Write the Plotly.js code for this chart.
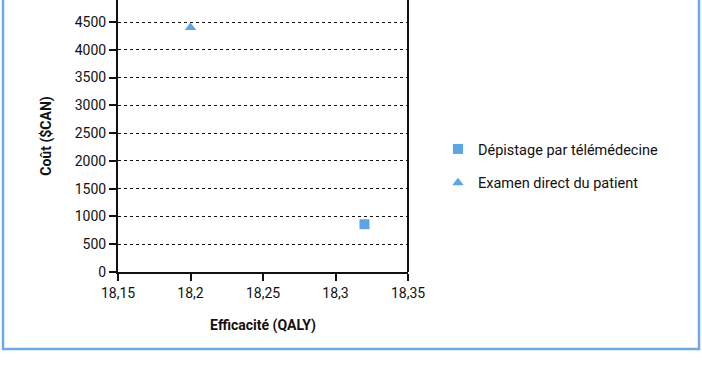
<!DOCTYPE html>
<html>
<head>
<meta charset="utf-8">
<script src="https://cdn.plot.ly/plotly-3.0.1.min.js"></script>
<style>html,body{margin:0;padding:0;background:#fff;}</style>
</head>
<body>
<div id="chart" style="width:702px;height:370px;"></div>
<script>
const seriesNames = ["Dépistage par télémédecine", "Examen direct du patient"];
const efficacite = [18.32, 18.2];
const cout = [860, 4400];
const symbols = ["square", "triangle-up"];
const yTicks = [0, 500, 1000, 1500, 2000, 2500, 3000, 3500, 4000, 4500, 5000];
const xTicks = [18.15, 18.2, 18.25, 18.3, 18.35];
const xTickLabels = ["18,15", "18,2", "18,25", "18,3", "18,35"];

const color = "#5ca4e6";
const font = "Roboto, 'DejaVu Sans', sans-serif";

const traces = seriesNames.map((n, i) => ({
  type: "scatter", mode: "markers", name: n,
  x: [efficacite[i]], y: [cout[i]],
  legendgroup: "g" + i,
  marker: {symbol: symbols[i], size: 10, color: color, line: {width: 0}},
  cliponaxis: false
}));

const L = 118, R = 408, T = 0, B = 272, W = 702, H = 370;
const px = v => (v - L) / (R - L);
const py = v => (B - v) / (B - T);

const layout = {
  width: W, height: H,
  margin: {l: L, r: W - R, t: T, b: H - B},
  paper_bgcolor: "#fff", plot_bgcolor: "#fff",
  font: {family: font, size: 14, color: "#111"},
  showlegend: true,
  legend: {x: px(438), y: py(133), xanchor: "left", yanchor: "top",
           font: {size: 14.5, color: "#111"}, traceorder: "grouped", tracegroupgap: 12,
           bgcolor: "rgba(0,0,0,0)"},
  xaxis: {
    range: [18.15, 18.35], tickvals: xTicks, ticktext: xTickLabels,
    showgrid: false, zeroline: false, showline: true, linecolor: "#111", linewidth: 2,
    ticks: "outside", ticklen: 7, tickwidth: 2, tickcolor: "#111",
    tickfont: {size: 14}, fixedrange: true,
    title: {text: "<b>Efficacité (QALY)</b>", font: {size: 14}, standoff: 20}
  },
  yaxis: {
    range: [0, 4896], tickvals: yTicks, ticktext: yTicks.map(String),
    showgrid: true, gridcolor: "#111", gridwidth: 1, griddash: "dot",
    zeroline: false, showline: true, linecolor: "#111", linewidth: 2,
    ticks: "outside", ticklen: 7, tickwidth: 2, tickcolor: "#111",
    tickfont: {size: 14}, fixedrange: true,
    title: {text: "<b>Coût ($CAN)</b>", font: {size: 14}, standoff: 20}
  },
  shapes: [
    {type: "line", xref: "paper", yref: "paper", x0: 1, x1: 1, y0: 0, y1: 1.05,
     line: {color: "#111", width: 2}},
    {type: "rect", xref: "paper", yref: "paper",
     x0: px(3), x1: px(699), y0: py(349), y1: 1.2,
     line: {color: "#6fa9e6", width: 2.5}, fillcolor: "rgba(0,0,0,0)", layer: "below"}
  ]
};

Plotly.newPlot("chart", traces, layout, {staticPlot: true, displayModeBar: false});
</script>
</body>
</html>
